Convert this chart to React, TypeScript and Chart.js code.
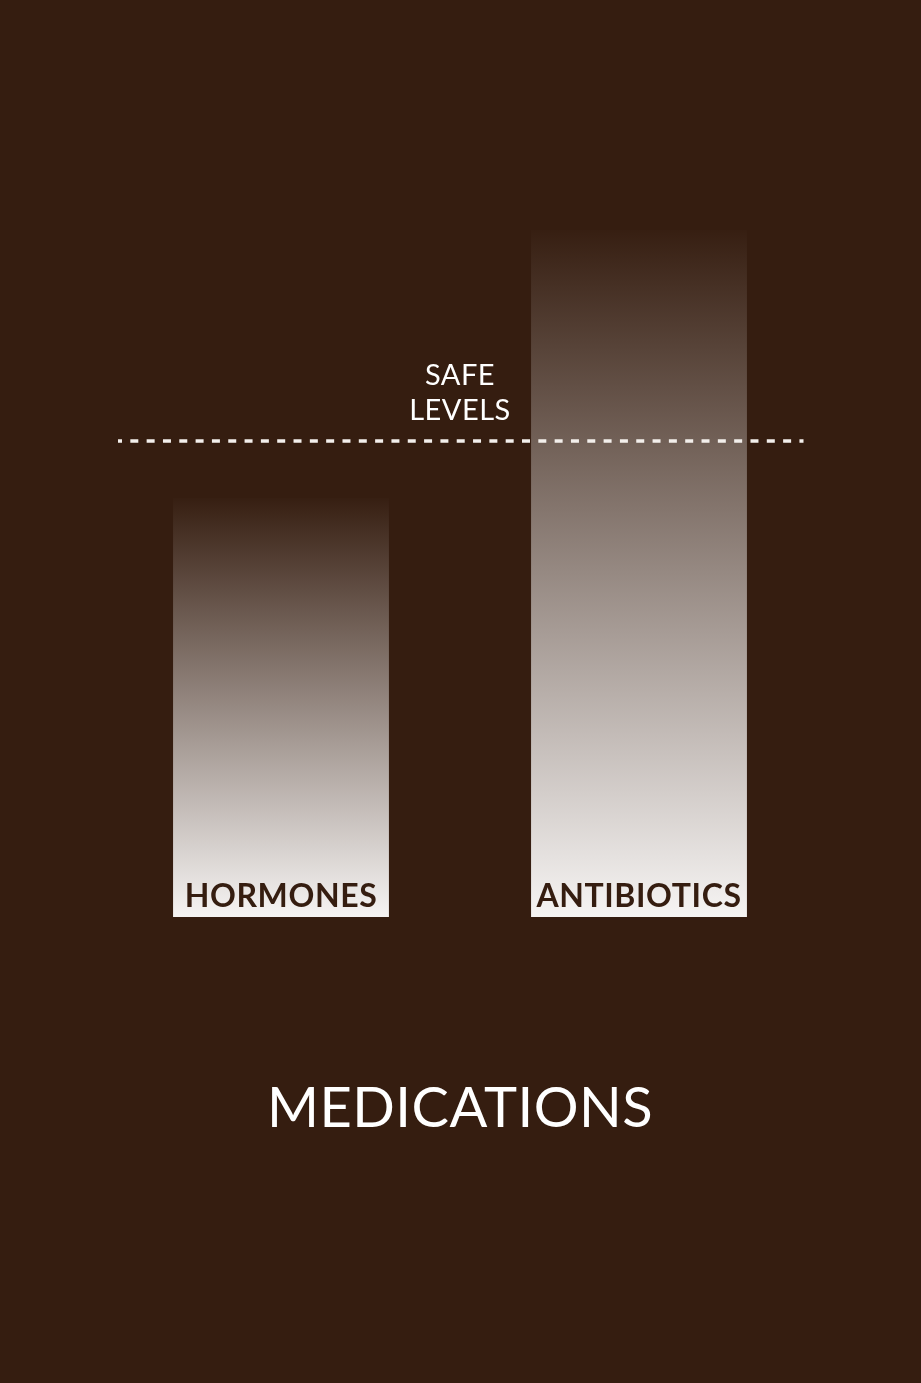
import React, { useEffect, useRef } from "react";
import { Chart, registerables } from "chart.js";

Chart.register(...registerables);

const CATEGORIES = ["HORMONES", "ANTIBIOTICS"];
const LEVELS = [52.4, 85.9];
const SAFE_LEVEL = 59.5;
const SAFE_LABEL = ["SAFE", "LEVELS"];
const TITLE = "MEDICATIONS";
const Y_MIN = 0;
const Y_MAX = 100;

const BG = "#351d10";
const LABEL_DARK = "#351d10";

const overlayPlugin = {
  id: "overlay",
  beforeDraw(chart: any) {
    const { ctx, width, height } = chart;
    ctx.save();
    ctx.fillStyle = BG;
    ctx.fillRect(0, 0, width, height);
    ctx.restore();
  },
  afterDatasetsDraw(chart: any) {
    const { ctx, chartArea } = chart;
    const yScale = chart.scales.y;
    const meta = chart.getDatasetMeta(0);
    ctx.save();
    // bar labels
    ctx.fillStyle = LABEL_DARK;
    ctx.font = "700 32px Lato";
    ctx.textAlign = "center";
    ctx.textBaseline = "alphabetic";
    try { (ctx as any).letterSpacing = "0.6px"; } catch (e) {}
    meta.data.forEach((bar: any, i: number) => {
      ctx.fillText(CATEGORIES[i], bar.x, bar.base - 10);
    });
    // safe line
    const ySafe = yScale.getPixelForValue(SAFE_LEVEL);
    ctx.strokeStyle = "#f3efec";
    ctx.lineWidth = 3.5;
    ctx.lineCap = "butt";
    ctx.setLineDash([8, 8.32]);
    ctx.lineDashOffset = 4;
    ctx.beginPath();
    ctx.moveTo(chartArea.left + 16, ySafe);
    ctx.lineTo(chartArea.right - 14.5, ySafe);
    ctx.stroke();
    ctx.setLineDash([]);
    // safe label
    const cx = (chartArea.left + chartArea.right) / 2;
    ctx.fillStyle = "#ffffff";
    ctx.font = "400 29px Lato";
    ctx.textBaseline = "middle";
    try { (ctx as any).letterSpacing = "0.5px"; } catch (e) {}
    ctx.fillText(SAFE_LABEL[0], cx, ySafe - 65);
    ctx.fillText(SAFE_LABEL[1], cx, ySafe - 30);
    // title
    ctx.font = "400 56px Lato";
    try { (ctx as any).letterSpacing = "0.5px"; } catch (e) {}
    ctx.fillText(TITLE, cx, chartArea.bottom + 192);
    ctx.restore();
  },
};

export default function App() {
  const ref = useRef<HTMLCanvasElement>(null);
  useEffect(() => {
    document.body.style.margin = "0";
    document.body.style.background = BG;
    const canvas = ref.current!;
    const chart = new Chart(canvas, {
      type: "bar",
      data: {
        labels: CATEGORIES,
        datasets: [
          {
            data: LEVELS,
            borderWidth: 0,
            barPercentage: 1,
            categoryPercentage: 0.603,
            backgroundColor: (ctx: any) => {
              const c = ctx.chart;
              if (!c.chartArea || ctx.raw == null) return "rgba(0,0,0,0)";
              const ys = c.scales.y;
              const top = ys.getPixelForValue(ctx.raw);
              const bottom = ys.getPixelForValue(0);
              const g = c.ctx.createLinearGradient(0, top, 0, bottom);
              g.addColorStop(0, "rgba(246,244,243,0.008)");
              g.addColorStop(1, "rgba(246,244,243,1)");
              return g;
            },
          },
        ],
      },
      options: {
        responsive: false,
        animation: false,
        layout: { padding: { left: 102, right: 103, top: 117, bottom: 466 } },
        plugins: { legend: { display: false }, tooltip: { enabled: false }, title: { display: false } },
        scales: {
          x: { display: false },
          y: { display: false, min: Y_MIN, max: Y_MAX },
        },
      },
      plugins: [overlayPlugin],
    });
    return () => chart.destroy();
  }, []);
  return (
    <div style={{ width: 921, height: 1383 }}>
      <canvas ref={ref} width={921} height={1383} style={{ display: "block", width: 921, height: 1383 }} />
    </div>
  );
}
